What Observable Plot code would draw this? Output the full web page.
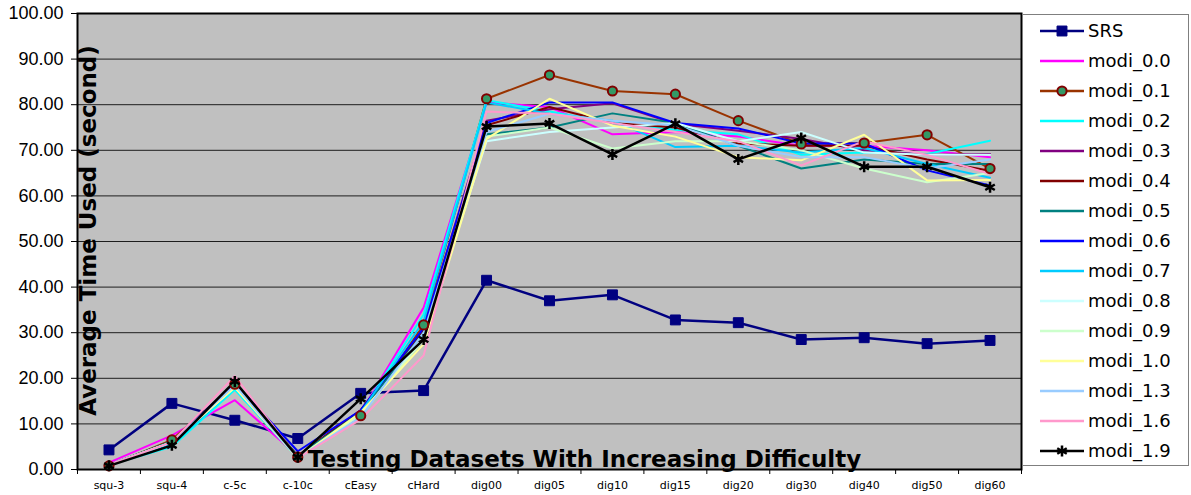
<!DOCTYPE html>
<html>
<head>
<meta charset="utf-8">
<script src="https://cdn.jsdelivr.net/npm/d3@7"></script>
<script src="https://cdn.jsdelivr.net/npm/@observablehq/plot@0.6"></script>
<style>
  body { margin: 0; background: #fff; }
  #wrap { position: relative; width: 1191px; height: 495px; }
  #legend {
    position: absolute; left: 1022px; top: 14px; width: 167px; height: 452px;
    box-sizing: border-box; border: 1px solid #7f7f7f; background: #fff;
    font-family: "DejaVu Sans", Verdana, sans-serif; font-size: 18px; color: #000;
  }
  .row { position: absolute; left: 0; height: 30px; width: 100%; }
  .row svg { position: absolute; left: 16px; top: 0; }
  .row span { position: absolute; left: 65px; top: 0; line-height: 30px; white-space: nowrap; }
</style>
</head>
<body>
<div id="wrap"><div id="legend"></div></div>
<script>
// Test datasets, ordered by increasing difficulty
const categories = ["squ-3", "squ-4", "c-5c", "c-10c", "cEasy", "cHard", "dig00", "dig05", "dig10", "dig15", "dig20", "dig30", "dig40", "dig50", "dig60"];

// Average time used (seconds) per dataset for each solver setting
const srs    = [4.3, 14.5, 10.8, 6.8, 16.7, 17.3, 41.5, 37.0, 38.3, 32.8, 32.2, 28.5, 28.9, 27.6, 28.3];
const modi00 = [1.5, 7.5, 15.2, 3.0, 12.5, 35.5, 80.5, 79.5, 73.5, 74.0, 73.0, 71.0, 71.0, 70.0, 68.5];
const modi01 = [0.8, 6.5, 18.7, 2.7, 11.8, 31.7, 81.3, 86.5, 83.0, 82.3, 76.5, 71.4, 71.6, 73.4, 66.0];
const modi02 = [1.0, 5.0, 17.5, 2.5, 12.5, 34.0, 81.0, 78.5, 76.0, 74.5, 73.5, 69.0, 69.5, 69.2, 72.1];
const modi03 = [1.0, 6.0, 18.5, 3.0, 13.0, 31.0, 76.5, 79.0, 80.3, 75.8, 74.3, 72.5, 70.0, 69.0, 69.2];
const modi04 = [1.0, 6.0, 19.0, 3.0, 13.0, 30.5, 75.5, 79.5, 76.0, 75.0, 71.5, 71.0, 71.0, 68.0, 65.5];
const modi05 = [1.0, 6.2, 18.5, 3.0, 12.5, 30.0, 73.5, 75.0, 78.1, 76.0, 71.0, 66.0, 68.0, 67.0, 67.0];
const modi06 = [1.0, 6.0, 19.0, 4.0, 13.0, 31.0, 76.0, 80.5, 80.5, 76.0, 74.8, 71.5, 71.5, 65.6, 62.3];
const modi07 = [1.0, 5.5, 18.0, 2.5, 12.5, 32.5, 80.5, 78.0, 76.5, 70.7, 71.0, 69.5, 70.5, 67.0, 64.0];
const modi08 = [1.0, 6.0, 18.5, 2.5, 12.0, 29.0, 72.0, 74.0, 75.0, 76.0, 72.0, 74.0, 69.5, 69.0, 69.0];
const modi09 = [1.0, 6.0, 18.0, 2.5, 12.0, 28.5, 73.0, 75.0, 70.4, 72.0, 72.0, 70.0, 66.0, 63.0, 65.0];
const modi10 = [1.0, 6.0, 18.0, 2.5, 12.5, 27.5, 72.5, 81.3, 75.4, 73.0, 68.5, 67.8, 73.4, 63.4, 63.5];
const modi13 = [1.0, 6.0, 18.5, 2.5, 11.5, 30.0, 74.0, 78.0, 76.5, 75.5, 71.0, 68.5, 68.5, 66.0, 68.0];
const modi16 = [1.0, 6.0, 20.5, 2.5, 11.0, 25.0, 78.5, 78.0, 76.0, 74.0, 72.0, 66.7, 72.0, 69.0, 64.8];
const modi19 = [0.8, 5.3, 19.3, 2.7, 15.5, 28.5, 75.2, 75.9, 69.1, 75.8, 68.0, 72.7, 66.4, 66.4, 61.9];

// Legend order, line colours and marker styles of each series
const seriesNames = ["SRS", "modi_0.0", "modi_0.1", "modi_0.2", "modi_0.3", "modi_0.4", "modi_0.5", "modi_0.6", "modi_0.7", "modi_0.8", "modi_0.9", "modi_1.0", "modi_1.3", "modi_1.6", "modi_1.9"];
const seriesValues = [srs, modi00, modi01, modi02, modi03, modi04, modi05, modi06, modi07, modi08, modi09, modi10, modi13, modi16, modi19];
const seriesColors = ["#000080", "#ff00ff", "#993300", "#00ffff", "#800080", "#800000", "#008080", "#0000ff", "#00ccff", "#ccffff", "#ccffcc", "#ffff99", "#99ccff", "#ff99cc", "#000000"];
const markerSpecs = {
  "SRS":      {symbol: "square",   r: 5.6, fill: "#000080", stroke: "#000080", strokeWidth: 1},
  "modi_0.1": {symbol: "circle",   r: 4.6, fill: "#339966", stroke: "#800000", strokeWidth: 2},
  "modi_1.9": {symbol: "asterisk", r: 5.2, fill: "none",    stroke: "#000000", strokeWidth: 2.5}
};
const yTicks = d3.range(0, 101, 10);

// Long-format table built from the arrays above
const rows = seriesNames.flatMap((name, s) =>
  seriesValues[s].map((v, i) => ({series: name, idx: i, value: v})));

const colorOf = new Map(seriesNames.map((n, i) => [n, seriesColors[i]]));

const markerMarks = Object.entries(markerSpecs).map(([name, spec]) =>
  Plot.dot(rows.filter(d => d.series === name), {
    x: "idx", y: "value", symbol: () => spec.symbol, r: spec.r,
    fill: spec.fill, stroke: spec.stroke, strokeWidth: spec.strokeWidth
  }));

const titleFont = "'DejaVu Sans', Verdana, sans-serif";

const chart = Plot.plot({
  width: 1191,
  height: 495,
  marginLeft: 77,
  marginTop: 13,
  marginRight: 170,
  marginBottom: 26,
  style: {background: "#fff", overflow: "visible"},
  x: {type: "linear", domain: [-0.5, categories.length - 0.5]},
  y: {domain: [0, 100]},
  symbol: {type: "identity"},
  marks: [
    Plot.frame({fill: "#c0c0c0", stroke: "none"}),
    Plot.gridY(yTicks, {stroke: "#000", strokeOpacity: 0.85, strokeWidth: 1}),
    Plot.axisY({
      ticks: yTicks, tickSize: 6, tickPadding: 8,
      tickFormat: d => d.toFixed(2),
      fontSize: 18, fontFamily: "'Liberation Sans', Arial, sans-serif",
      stroke: "#000", label: null
    }),
    // tick marks between categories
    Plot.axisX({
      ticks: d3.range(categories.length + 1).map(i => i - 0.5),
      tickSize: 5, tickFormat: () => "", label: null
    }),
    // category labels under the centre of each slot
    Plot.axisX({
      ticks: d3.range(categories.length), tickSize: 0, tickPadding: 12,
      tickFormat: i => categories[i],
      fontSize: 11, fontFamily: "'DejaVu Sans', Verdana, sans-serif", label: null
    }),
    ...seriesNames.map((name, s) =>
      Plot.line(rows.filter(d => d.series === name), {
        x: "idx", y: "value", stroke: seriesColors[s],
        strokeWidth: name === "modi_1.9" || name === "SRS" ? 2.5 : 2,
        strokeLinejoin: "miter"
      })),
    ...markerMarks,
    Plot.frame({stroke: "#000", strokeWidth: 2}),
    Plot.text(["Average Time Used (second)"], {
      frameAnchor: "left", textAnchor: "middle", lineAnchor: "middle",
      rotate: -90, dx: 11, dy: -11,
      fontSize: 23, fontWeight: "bold", fontFamily: titleFont, fill: "#000"
    }),
    Plot.text(["Testing Datasets With Increasing Difficulty"], {
      frameAnchor: "bottom", textAnchor: "middle", lineAnchor: "bottom", dx: 35, dy: -3,
      fontSize: 23, fontWeight: "bold", fontFamily: titleFont, fill: "#000"
    })
  ]
});

document.getElementById("wrap").prepend(chart);

// Legend: one row per series with its line sample and marker
const legend = d3.select("#legend");
const symbolTypes = {square: d3.symbolSquare, circle: d3.symbolCircle, asterisk: d3.symbolAsterisk};
seriesNames.forEach((name, i) => {
  const row = legend.append("div").attr("class", "row").style("top", (1 + 30 * i) + "px");
  const svg = row.append("svg").attr("width", 48).attr("height", 30);
  svg.append("line").attr("x1", 1).attr("x2", 45).attr("y1", 15).attr("y2", 15)
    .attr("stroke", colorOf.get(name)).attr("stroke-width", 2.5);
  const spec = markerSpecs[name];
  if (spec) {
    svg.append("path")
      .attr("d", d3.symbol(symbolTypes[spec.symbol], Math.PI * spec.r * spec.r)())
      .attr("transform", "translate(23,15)")
      .attr("fill", spec.fill).attr("stroke", spec.stroke).attr("stroke-width", spec.strokeWidth);
  }
  row.append("span").text(name);
});
</script>
</body>
</html>
